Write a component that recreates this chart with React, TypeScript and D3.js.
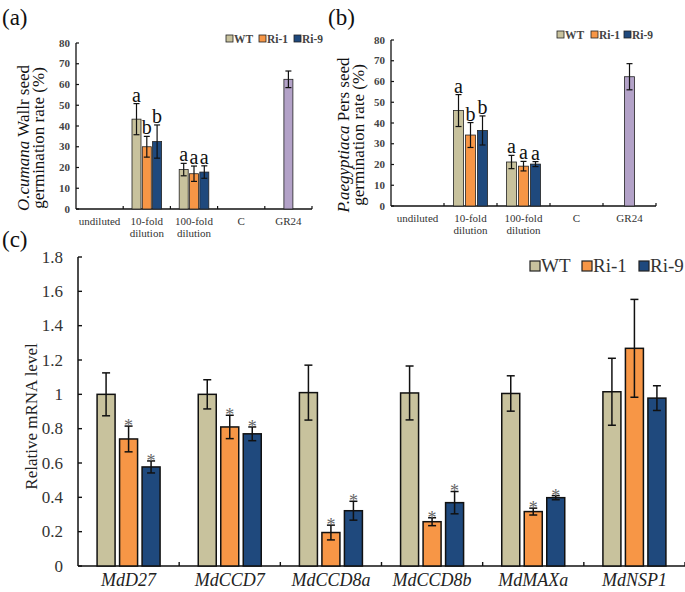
import React from "react";
import * as d3 from "d3";

const seriesNames = ["WT", "Ri-1", "Ri-9"];
const seriesColors = ["#C8C29D", "#F79646", "#1F497D"];
const gr24Color = "#B3A2C8";

// Panel (a)
const germCats = ["undiluted", "10-fold|dilution", "100-fold|dilution", "C", "GR24"];
const aWT = [null, 43.3, 19.0, null, null];
const aRi1 = [null, 30.0, 17.0, null, null];
const aRi9 = [null, 32.5, 17.8, null, null];
const aWTerr = [0, 7.5, 3.0, 0, 0];
const aRi1err = [0, 5.0, 3.7, 0, 0];
const aRi9err = [0, 8.0, 3.0, 0, 0];
const aLetters = [[], ["a", "b", "b"], ["a", "a", "a"], [], []];
const aGR24 = 62.5;
const aGR24err = 4.0;

// Panel (b)
const bWT = [null, 46.0, 21.2, null, null];
const bRi1 = [null, 34.2, 19.2, null, null];
const bRi9 = [null, 36.4, 20.2, null, null];
const bWTerr = [0, 7.7, 3.2, 0, 0];
const bRi1err = [0, 6.0, 2.3, 0, 0];
const bRi9err = [0, 7.0, 1.2, 0, 0];
const bLetters = [[], ["a", "b", "b"], ["a", "a", "a"], [], []];
const bGR24 = 62.3;
const bGR24err = 6.3;

const germTicks = [0, 10, 20, 30, 40, 50, 60, 70, 80];

// Panel (c)
const genes = ["MdD27", "MdCCD7", "MdCCD8a", "MdCCD8b", "MdMAXa", "MdNSP1"];
const cWT = [1.0, 1.0, 1.01, 1.008, 1.005, 1.015];
const cRi1 = [0.74, 0.81, 0.195, 0.258, 0.317, 1.268];
const cRi9 = [0.577, 0.77, 0.322, 0.369, 0.398, 0.978];
const cWTerr = [0.125, 0.085, 0.16, 0.157, 0.103, 0.195];
const cRi1err = [0.075, 0.068, 0.043, 0.023, 0.02, 0.285];
const cRi9err = [0.035, 0.04, 0.055, 0.065, 0.012, 0.072];
const cStar = [[false, true, true], [false, true, true], [false, true, true], [false, true, true], [false, true, true], [false, false, false]];
const cTicks = [0, 0.2, 0.4, 0.6, 0.8, 1.0, 1.2, 1.4, 1.6, 1.8];

const FONT = "'Times New Roman', 'Liberation Serif', Tinos, 'Nimbus Roman', serif";

function GermPanel(props) {
  const { left, right, top, bottom, wt, ri1, ri9, wte, ri1e, ri9e, letters, gr, gre, barW, gap, legendX, legendY, titleLines, titleX, label, labelX } = props;
  const y = d3.scaleLinear().domain([0, 80]).range([bottom, top]);
  const x = d3.scaleBand().domain(germCats).range([left, right]).paddingInner(0).paddingOuter(0);
  const sx = d3.scaleBand().domain(seriesNames).range([0, 3 * barW + 2 * gap]).paddingInner(gap / (barW + gap));
  const groupW = 3 * barW + 2 * gap;
  const vals = [wt, ri1, ri9];
  const errs = [wte, ri1e, ri9e];
  const capW = 3;
  const marks = [];
  germCats.forEach((c, ci) => {
    const gx = x(c) + x.bandwidth() / 2 - groupW / 2;
    seriesNames.forEach((s, si) => {
      const v = vals[si][ci];
      if (v == null) return;
      const bx = gx + sx(s);
      const bw = sx.bandwidth();
      const e = errs[si][ci];
      const cx = bx + bw / 2;
      marks.push(
        <g key={c + s}>
          <rect x={bx} y={y(v)} width={bw} height={y(0) - y(v)} fill={seriesColors[si]} stroke="#222" strokeWidth={0.8} />
          <line x1={cx} x2={cx} y1={y(v + e)} y2={y(v - e)} stroke="#111" strokeWidth={1.2} />
          <line x1={cx - capW} x2={cx + capW} y1={y(v + e)} y2={y(v + e)} stroke="#111" strokeWidth={1.2} />
          <line x1={cx - capW} x2={cx + capW} y1={y(v - e)} y2={y(v - e)} stroke="#111" strokeWidth={1.2} />
          {letters[ci][si] ? (
            <text x={cx} y={y(v + e) - 2} textAnchor="middle" fontSize={20} fontFamily={FONT} fill="#111">{letters[ci][si]}</text>
          ) : null}
        </g>
      );
    });
  });
  const gcx = x("GR24") + x.bandwidth() / 2;
  const gbw = barW;
  marks.push(
    <g key="gr24">
      <rect x={gcx - gbw / 2} y={y(gr)} width={gbw} height={y(0) - y(gr)} fill={gr24Color} stroke="#222" strokeWidth={0.8} />
      <line x1={gcx} x2={gcx} y1={y(gr + gre)} y2={y(gr - gre)} stroke="#111" strokeWidth={1.2} />
      <line x1={gcx - capW} x2={gcx + capW} y1={y(gr + gre)} y2={y(gr + gre)} stroke="#111" strokeWidth={1.2} />
      <line x1={gcx - capW} x2={gcx + capW} y1={y(gr - gre)} y2={y(gr - gre)} stroke="#111" strokeWidth={1.2} />
    </g>
  );
  const titleCy = (top + bottom) / 2 + 12;
  return (
    <g>
      <text x={labelX} y={25} fontSize={23} fontFamily={FONT} fill="#111">{label}</text>
      <line x1={left} x2={left} y1={top} y2={bottom} stroke="#111" strokeWidth={1.3} />
      <line x1={left} x2={right} y1={bottom} y2={bottom} stroke="#111" strokeWidth={1.3} />
      {germTicks.map((t) => (
        <g key={"yt" + t}>
          <line x1={left} x2={left + 3} y1={y(t)} y2={y(t)} stroke="#111" strokeWidth={1.2} />
          <text x={left - 6} y={y(t) + 3.5} textAnchor="end" fontSize={11} fontFamily={FONT} fontWeight="bold" fill="#444">{t}</text>
        </g>
      ))}
      {germCats.map((c) => (
        <g key={"xt" + c}>
          <line x1={x(c) + x.bandwidth()} x2={x(c) + x.bandwidth()} y1={bottom} y2={bottom - 3} stroke="#111" strokeWidth={1.2} />
          {c.split("|").map((part, pi) => (
            <text key={pi} x={x(c) + x.bandwidth() / 2} y={bottom + 16 + pi * 12} textAnchor="middle" fontSize={11} fontFamily={FONT} fill="#333">{part}</text>
          ))}
        </g>
      ))}
      {marks}
      {titleLines.map((ln, li) => (
        <text key={li} transform={`translate(${titleX + li * 15},${titleCy}) rotate(-90)`} textAnchor="middle" fontSize={17} fontFamily={FONT} fill="#111">
          {ln.map((seg, si) => (
            <tspan key={si} fontStyle={seg.it ? "italic" : "normal"}>{seg.t}</tspan>
          ))}
        </text>
      ))}
      {seriesNames.map((s, i) => {
        const lx = legendX[i];
        return (
          <g key={"lg" + s}>
            <rect x={lx} y={legendY - 4} width={7} height={7} fill={seriesColors[i]} stroke="#222" strokeWidth={0.8} />
            <text x={lx + 8} y={legendY + 3.5} fontSize={11.5} fontFamily={FONT} fontWeight="bold" fill="#444">{s}</text>
          </g>
        );
      })}
    </g>
  );
}

function GenePanel() {
  const left = 78, right = 685, top = 257, bottom = 566;
  const y = d3.scaleLinear().domain([0, 1.8]).range([bottom, top]);
  const x = d3.scaleBand().domain(genes).range([left, right]);
  const barW = 18, gap = 4.5;
  const groupW = 3 * barW + 2 * gap;
  const sx = d3.scaleBand().domain(seriesNames).range([0, groupW]).paddingInner(gap / (barW + gap));
  const vals = [cWT, cRi1, cRi9];
  const errs = [cWTerr, cRi1err, cRi9err];
  const capW = 4;
  const legendX = [530, 582, 639];
  const legendY = 266;
  return (
    <g>
      <text x={2} y={247} fontSize={23} fontFamily={FONT} fill="#111">(c)</text>
      <line x1={left} x2={left} y1={top} y2={bottom} stroke="#111" strokeWidth={1.5} />
      <line x1={left} x2={right} y1={bottom} y2={bottom} stroke="#111" strokeWidth={1.5} />
      {cTicks.map((t) => (
        <g key={"ct" + t}>
          <line x1={left} x2={left + 4} y1={y(t)} y2={y(t)} stroke="#111" strokeWidth={1.4} />
          <text x={left - 15} y={y(t) + 5.5} textAnchor="end" fontSize={17} fontFamily={FONT} fill="#333">{t === 0 ? "0" : t === 1 ? "1" : d3.format(".1f")(t)}</text>
        </g>
      ))}
      {genes.map((g) => (
        <g key={"cx" + g}>
          <line x1={x(g) + x.bandwidth()} x2={x(g) + x.bandwidth()} y1={bottom} y2={bottom - 4} stroke="#111" strokeWidth={1.4} />
          <text x={x(g) + x.bandwidth() / 2} y={586} textAnchor="middle" fontSize={18} fontStyle="italic" fontFamily={FONT} fill="#222">{g}</text>
        </g>
      ))}
      {genes.map((g, gi) => {
        const gx = x(g) + x.bandwidth() / 2 - groupW / 2;
        return seriesNames.map((s, si) => {
          const v = vals[si][gi];
          const e = errs[si][gi];
          const bx = gx + sx(s);
          const bw = sx.bandwidth();
          const cx = bx + bw / 2;
          return (
            <g key={g + s}>
              <rect x={bx} y={y(v)} width={bw} height={y(0) - y(v)} fill={seriesColors[si]} stroke="#111" strokeWidth={1.5} />
              <line x1={cx} x2={cx} y1={y(v + e)} y2={y(v - e)} stroke="#111" strokeWidth={1.5} />
              <line x1={cx - capW} x2={cx + capW} y1={y(v + e)} y2={y(v + e)} stroke="#111" strokeWidth={1.5} />
              <line x1={cx - capW} x2={cx + capW} y1={y(v - e)} y2={y(v - e)} stroke="#111" strokeWidth={1.5} />
              {cStar[gi][si] ? (
                <text x={cx} y={y(v + e) + 6} textAnchor="middle" fontSize={18} fontFamily={FONT} fill="#666">*</text>
              ) : null}
            </g>
          );
        });
      })}
      <text transform={`translate(37,${(top + bottom) / 2 + 5}) rotate(-90)`} textAnchor="middle" fontSize={17} fontFamily={FONT} fill="#222">Relative mRNA level</text>
      {seriesNames.map((s, i) => (
        <g key={"clg" + s}>
          <rect x={legendX[i]} y={legendY - 5} width={10} height={10} fill={seriesColors[i]} stroke="#222" strokeWidth={1.2} />
          <text x={legendX[i] + 11} y={legendY + 6} fontSize={19} fontFamily={FONT} fill="#333">{s}</text>
        </g>
      ))}
    </g>
  );
}

export default function App() {
  return (
    <svg width={685} height={592} style={{ position: "absolute", left: 0, top: 0, background: "#fff" }}>
      <rect width={685} height={592} fill="#fff" />
      <GermPanel
        left={76} right={312} top={43} bottom={209}
        wt={aWT} ri1={aRi1} ri9={aRi9} wte={aWTerr} ri1e={aRi1err} ri9e={aRi9err}
        letters={aLetters} gr={aGR24} gre={aGR24err}
        barW={9} gap={1.3}
        legendX={[226, 259, 294]} legendY={39}
        titleLines={[[{ t: "O.cumana", it: true }, { t: " Wallr seed", it: false }], [{ t: "germination rate (%)", it: false }]]}
        titleX={29} label="(a)" labelX={2}
      />
      <GermPanel
        left={391} right={656} top={40} bottom={206}
        wt={bWT} ri1={bRi1} ri9={bRi9} wte={bWTerr} ri1e={bRi1err} ri9e={bRi9err}
        letters={bLetters} gr={bGR24} gre={bGR24err}
        barW={10} gap={2}
        legendX={[557, 591, 624]} legendY={35}
        titleLines={[[{ t: "P.aegyptiaca", it: true }, { t: " Pers seed", it: false }], [{ t: "germination rate (%)", it: false }]]}
        titleX={349} label="(b)" labelX={328}
      />
      <GenePanel />
    </svg>
  );
}
